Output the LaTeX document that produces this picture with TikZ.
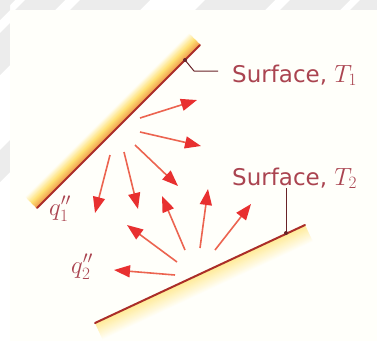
\documentclass[tikz,border=0pt]{standalone}
\usepackage{fontspec}
\newfontfamily\labelfont{DejaVu Sans}
\usetikzlibrary{arrows.meta,calc}
\definecolor{txt}{RGB}{170,68,80}
\definecolor{surf}{RGB}{170,45,40}
\definecolor{lead}{RGB}{105,35,40}
\definecolor{shaft}{RGB}{236,100,80}
\definecolor{head}{RGB}{232,48,48}
\definecolor{cream}{RGB}{255,255,250}
\definecolor{stripe}{RGB}{236,236,236}
\definecolor{bandA}{RGB}{242,160,80}
\definecolor{bandB}{RGB}{255,225,115}
\definecolor{bandC}{RGB}{255,253,238}
\definecolor{bandD}{RGB}{255,235,150}
\begin{document}
\begin{tikzpicture}[x=1pt,y=-1pt,
  ray/.style={draw=shaft, line width=1.6pt, -{Triangle[length=16pt,width=12pt,color=head]}},
  surfline/.style={draw=surf, line width=2pt, line cap=round},
  leader/.style={draw=lead, line width=1pt},
  lbl/.style={text=txt, inner sep=0pt, font=\labelfont\fontsize{23}{26}\selectfont},
  qlbl/.style={text=txt, inner sep=0pt, font=\fontsize{25}{28}\selectfont}]
\useasboundingbox (0,0) rectangle (377,341);
% faint stripes outside the frame
\foreach \a/\b in {0/15,25/65,80/150,205/275,290/350,360/390}
  \fill[stripe] (\a,0) -- (\b,0) -- (\b-10,10) -- (\a-10,10) -- cycle;
\foreach \a/\b in {-5/20,33/75,150/182}
  \fill[stripe] (0,\a) -- (10,\a-10) -- (10,\b-10) -- (0,\b) -- cycle;
\fill[cream] (10,10) rectangle (377,341);
% surfaces
\coordinate (S1a) at (37,208);
\coordinate (S1b) at (200,45);
\coordinate (S2a) at (95,323);
\coordinate (S2b) at (305,225);
\foreach \k in {15,14,...,1}{
  \pgfmathtruncatemacro{\p}{\k<=7 ? 100*\k/7 : 100*(\k-7)/8}
  \ifnum\k>7 \colorlet{bandc}{bandC!\p!bandB}\else\colorlet{bandc}{bandB!\p!bandA}\fi
  \draw[bandc, line width=1.6pt, line cap=round]
    ($(S1a)+\k*(-0.707,-0.707)$) -- ($(S1b)+\k*(-0.707,-0.707)$);
}
\foreach \k in {18,17,...,1}{
  \pgfmathtruncatemacro{\p}{100*\k/18}
  \colorlet{bandc}{cream!\p!bandD}
  \draw[bandc, line width=1.6pt]
    ($(S2a)+\k*(0.423,0.906)$) -- ($(S2b)+\k*(0.423,0.906)$);
}
\draw[surfline] (S1a) -- (S1b);
\draw[surfline] (S2a) -- (S2b);
% leaders
\coordinate (L1a) at (185,60);
\coordinate (L1b) at (194,71);
\coordinate (L1c) at (218,71);
\coordinate (L2a) at (286,188);
\coordinate (L2b) at (286,233);
\draw[leader] (L1a) -- (L1b) -- (L1c);
\draw[leader] (L2a) -- (L2b);
\fill[lead] (L1a) circle (2);
\fill[lead] (L2b) circle (2);
% labels
\node[lbl, anchor=base west] (t1) at (232,82) {Surface, $T_1$};
\node[lbl, anchor=base west] (t2) at (232,185) {Surface, $T_2$};
\node[qlbl, anchor=base west] (q1) at (49,215) {$q''_1$};
\node[qlbl, anchor=base west] (q2) at (71,273) {$q''_2$};
% rays from surface 1
\foreach \n/\sx/\sy/\ex/\ey in {1/140/118/197/100, 2/140/132/201/146, 3/135/145/178/186,
    4/124/152/138/209, 5/110/155/95/213}{
  \coordinate (a\n) at (\sx,\sy);
  \coordinate (b\n) at (\ex,\ey);
  \draw[ray] (a\n) -- (b\n);
}
% rays from surface 2
\foreach \n/\sx/\sy/\ex/\ey in {6/175/275/114/270, 7/177/262/127/225, 8/185/250/162/196,
    9/200/248/208/189, 10/215/250/251/204}{
  \coordinate (c\n) at (\sx,\sy);
  \coordinate (d\n) at (\ex,\ey);
  \draw[ray] (c\n) -- (d\n);
}
\end{tikzpicture}
\end{document}
